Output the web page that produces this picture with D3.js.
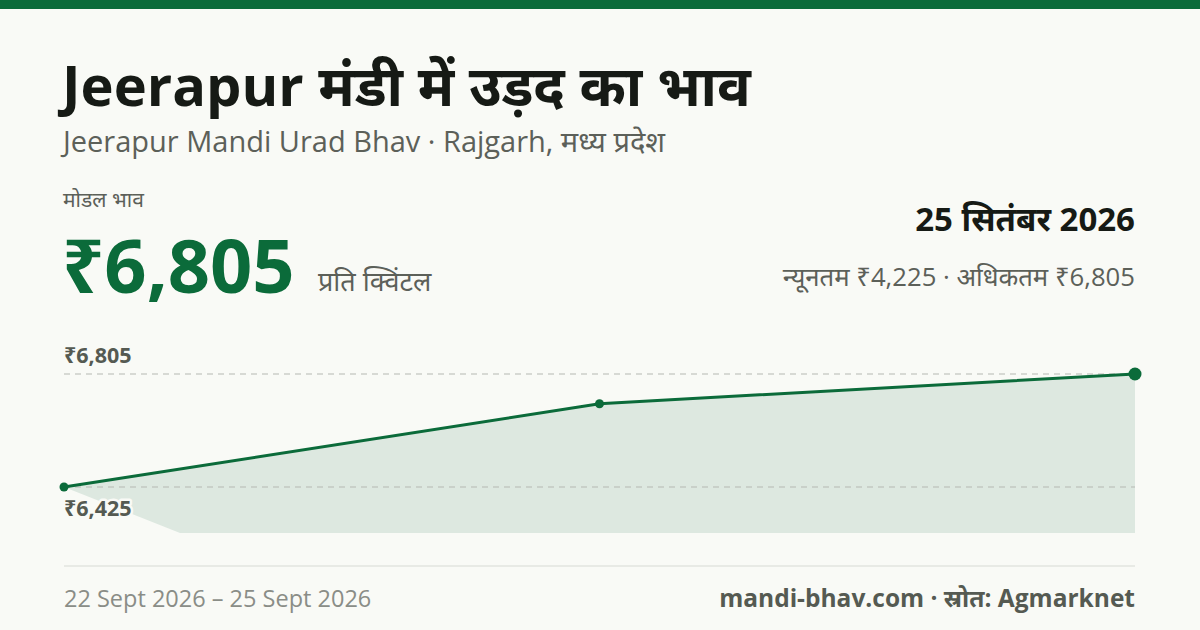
<!DOCTYPE html>
<html><head><meta charset="utf-8">
<script src="https://cdn.jsdelivr.net/npm/d3@7"></script>
<style>body{margin:0;background:#f9faf6;}svg{display:block;font-family:"Open Sans","Noto Sans",sans-serif;}</style>
</head><body><svg id="c" width="1200" height="630"></svg>
<script>
const dates = ["22 Sept 2026","24 Sept 2026","25 Sept 2026"];
const prices = [6425, 6705, 6805];
const refTicks = [6805, 6425];
const refLabels = ["₹6,805","₹6,425"];

const svg = d3.select("#c");
const green = "#0b6b3a";
svg.append("rect").attr("width",1200).attr("height",630).attr("fill","#f9faf6");
svg.append("rect").attr("width",1200).attr("height",9).attr("fill",green);

const T=(x,y,t,size,weight,fill,anchor)=>svg.append("text").attr("x",x).attr("y",y).text(t)
  .attr("font-size",size).attr("font-weight",weight).attr("fill",fill).attr("text-anchor",anchor||"start");
T(62,106,"Jeerapur मंडी में उड़द का भाव",56,700,"#161a15");
T(63,152,"Jeerapur Mandi Urad Bhav · Rajgarh, मध्य प्रदेश",29,400,"#5c6059");
T(63,207,"मोडल भाव",21,400,"#5c6059");
T(62,293,"₹6,805",74,700,green);
T(318,291,"प्रति क्विंटल",27,400,"#5c6059");
T(1135,231,"25 सितंबर 2026",33,700,"#161a15","end");
T(1135,286,"न्यूनतम ₹4,225 · अधिकतम ₹6,805",25.7,400,"#5c6059","end");

const x = d3.scalePoint().domain(d3.range(prices.length)).range([64,1135]);
const y = d3.scaleLinear().domain([6425,6805]).range([487,374]);
const base = 533;

const area = d3.area().x1((d,i)=>x(i)).x0((d,i)=>i===0?x(i)+116:x(i)).y1(d=>y(d)).y0(base);
svg.append("path").datum(prices).attr("d",area).attr("fill","#dde8e0");

refTicks.forEach((v,i)=>{
  svg.append("line").attr("x1",64).attr("x2",1135).attr("y1",y(v)).attr("y2",y(v))
    .attr("stroke","#b5b8b2").attr("stroke-dasharray","6,5").attr("stroke-width",1.2);
});
svg.append("text").attr("x",64).attr("y",y(refTicks[0])-11).text(refLabels[0])
  .attr("font-size",21.5).attr("font-weight",700).attr("fill","#555a52");
svg.append("text").attr("x",64).attr("y",y(refTicks[1])+29).text(refLabels[1])
  .attr("font-size",21.5).attr("font-weight",700).attr("fill","#555a52")
  .attr("stroke","#f9faf6").attr("stroke-width",5).attr("paint-order","stroke").attr("stroke-linejoin","round");

svg.append("path").datum(prices).attr("d",d3.line().x((d,i)=>x(i)).y(d=>y(d)))
  .attr("fill","none").attr("stroke",green).attr("stroke-width",3);
svg.selectAll("circle.p").data(prices).join("circle").attr("cx",(d,i)=>x(i)).attr("cy",d=>y(d))
  .attr("r",(d,i)=>i===prices.length-1?6.5:4.5).attr("fill",green);

svg.append("line").attr("x1",64).attr("x2",1135).attr("y1",566).attr("y2",566).attr("stroke","#e2e4df").attr("stroke-width",1.5);
T(64,607,dates[0]+" – "+dates[dates.length-1],23.5,400,"#8a8d87");
T(1135,607,"mandi-bhav.com · स्रोत: Agmarknet",24.5,700,"#555a52","end");
</script></body></html>
